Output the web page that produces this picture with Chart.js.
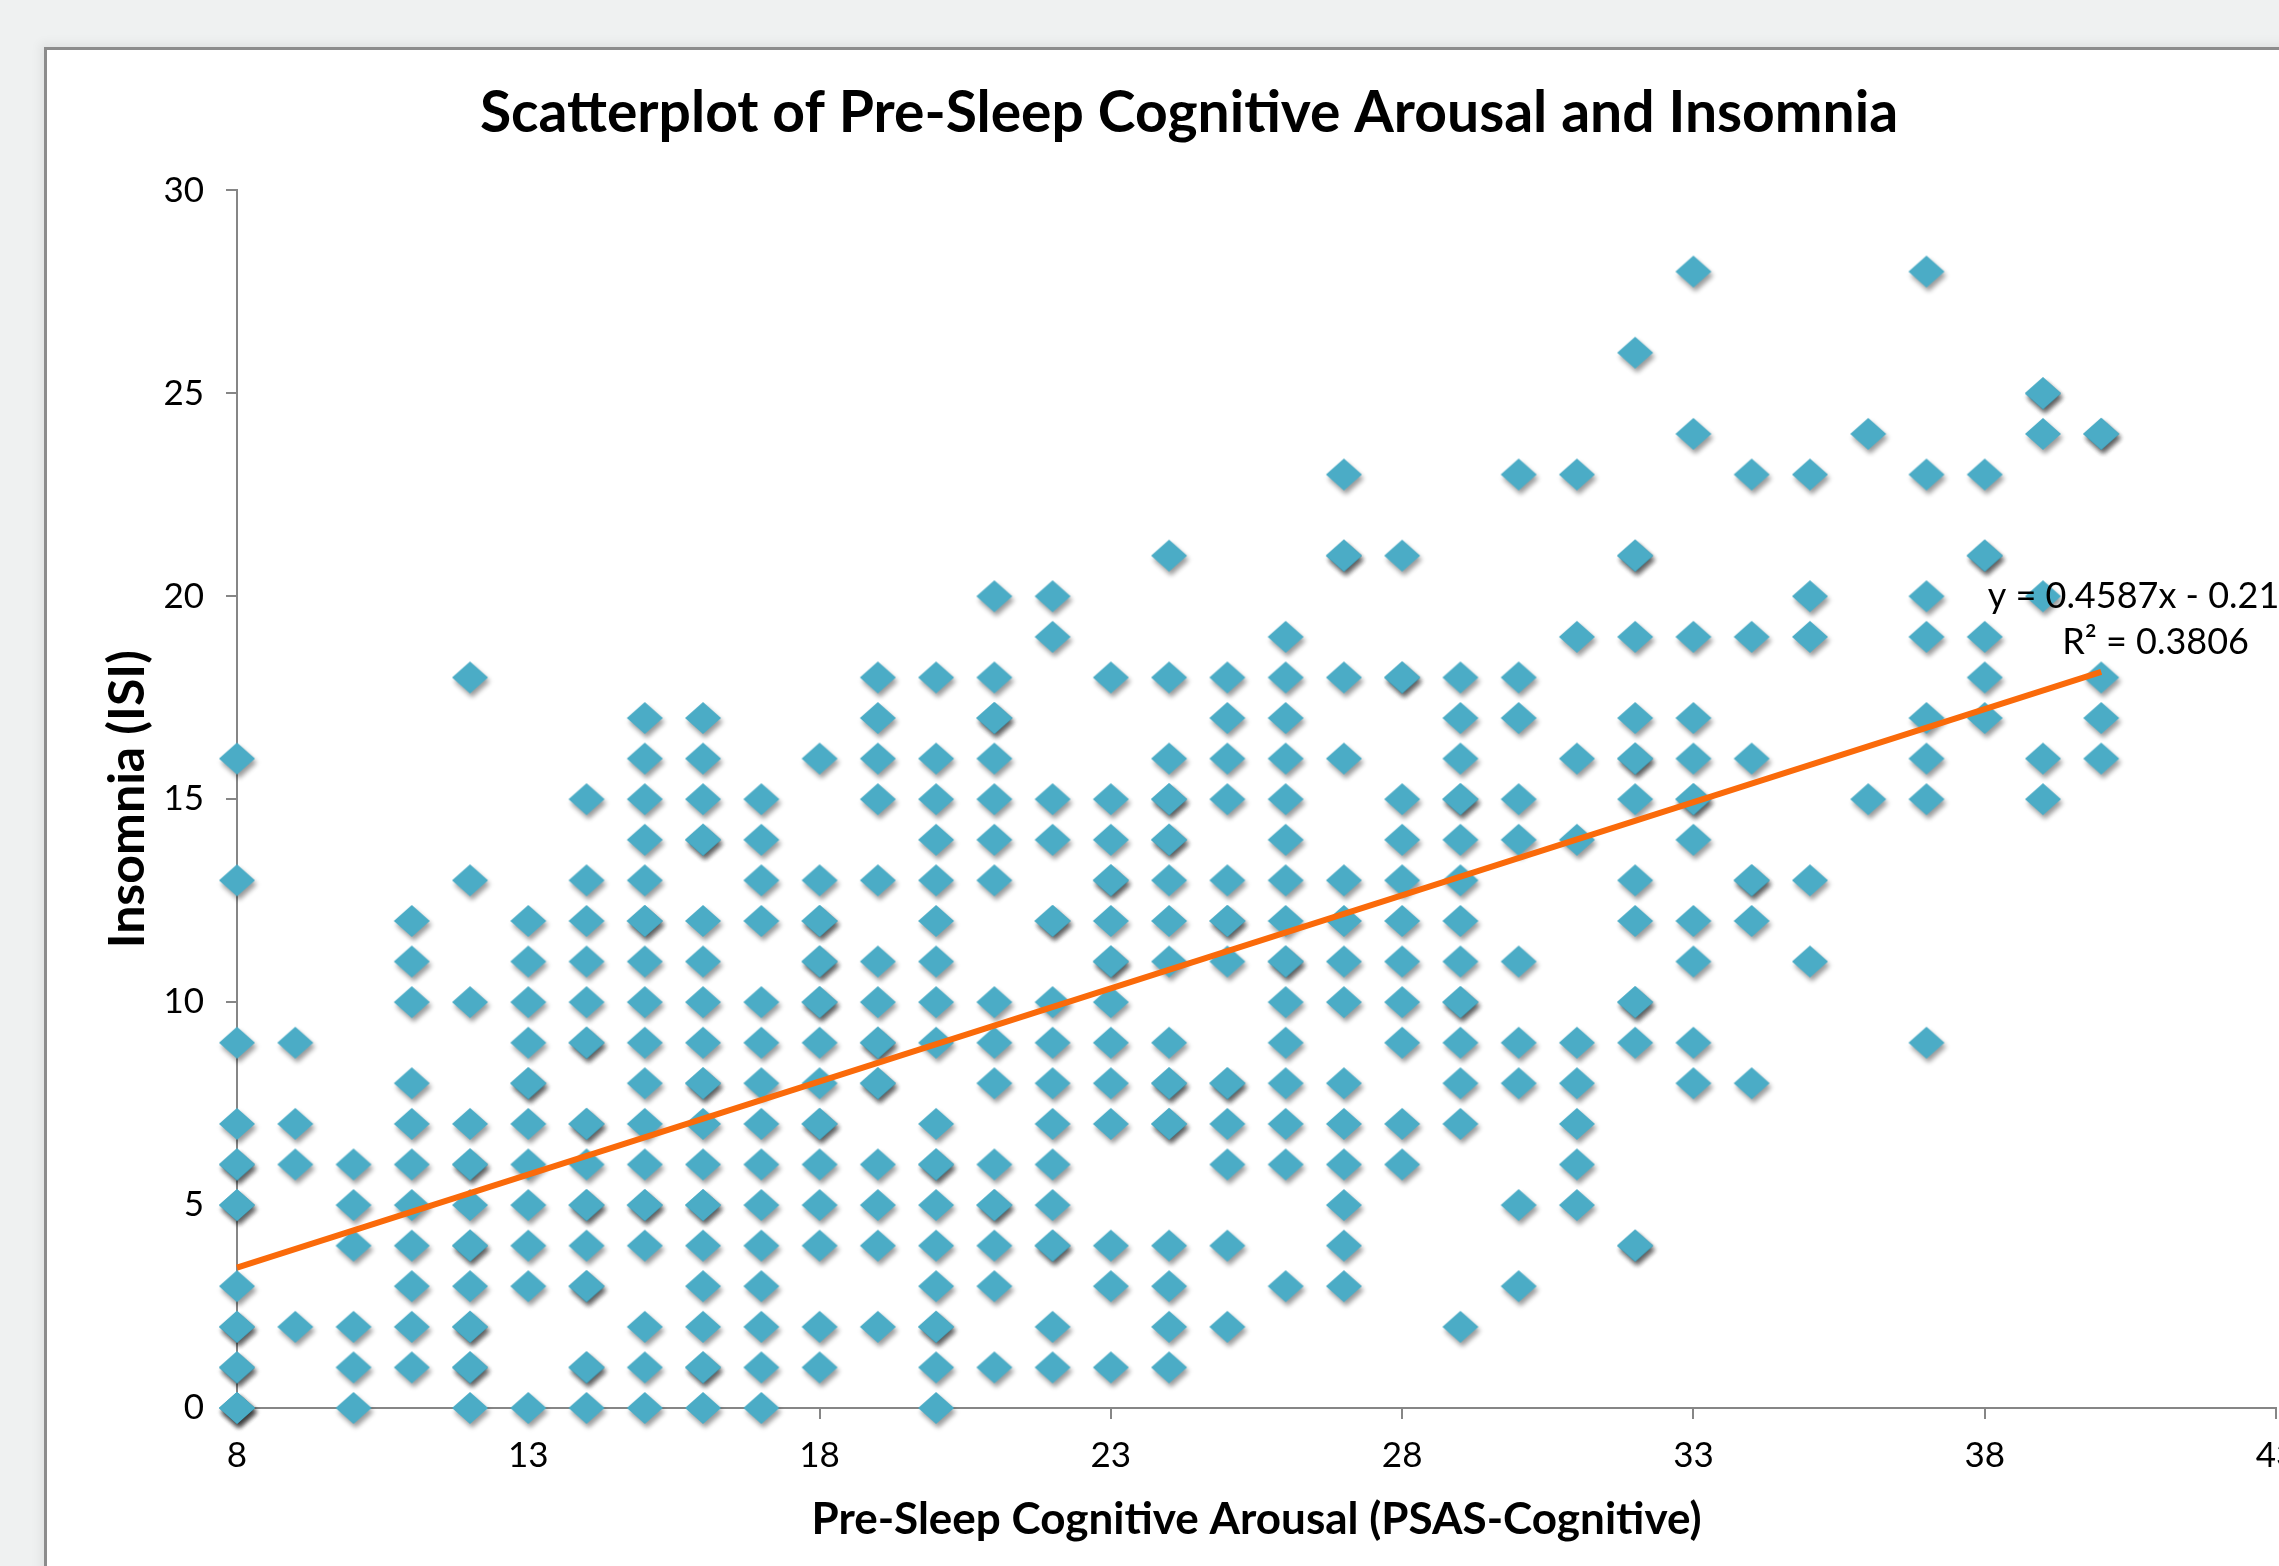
<!DOCTYPE html>
<html>
<head>
<meta charset="utf-8">
<title>Scatterplot of Pre-Sleep Cognitive Arousal and Insomnia</title>
<script src="https://cdn.jsdelivr.net/npm/chart.js@4.4.1/dist/chart.umd.min.js"></script>
<style>
    html, body { margin: 0; padding: 0; overflow: hidden; background: #eff1f1; }
    body { width: 2279px; height: 1566px; position: relative; }
    #panel {
        position: absolute; left: 44px; top: 47px; width: 2400px; height: 1600px;
        background: #fff; border: 3px solid #8c8c8c;
        box-shadow: -4px -4px 10px rgba(0, 0, 0, 0.06);
    }
    #scatter { position: absolute; left: 0; top: 0; }
</style>
</head>
<body>
<div id="panel"></div>
<canvas id="scatter" width="2400" height="1566"></canvas>
<script>
// PSAS-Cognitive scores (x) and the ISI scores seen at each of them (y)
let psasScores = [8, 9, 10, 11, 12, 13, 14, 15, 16, 17, 18, 19, 20, 21, 22, 23, 24,
    25, 26, 27, 28, 29, 30, 31, 32, 33, 34, 35, 36, 37, 38, 39, 40];
let isiScores = [
    [16, 13, 9, 7, 6, 6, 5, 5, 3, 2, 2, 1, 1, 0, 0, 0],
    [9, 7, 6, 2],
    [6, 5, 4, 2, 1, 0],
    [12, 11, 10, 8, 7, 6, 5, 4, 3, 2, 1],
    [18, 13, 10, 7, 6, 6, 5, 4, 4, 3, 2, 2, 1, 1, 0],
    [12, 11, 10, 9, 8, 8, 7, 6, 5, 4, 3, 0],
    [15, 13, 12, 11, 10, 9, 9, 7, 7, 6, 5, 5, 4, 3, 3, 1, 1, 0],
    [17, 16, 15, 14, 13, 12, 12, 11, 10, 9, 8, 7, 6, 5, 5, 4, 2, 1, 0],
    [17, 16, 15, 14, 14, 12, 11, 10, 9, 8, 8, 7, 6, 5, 5, 4, 3, 2, 1, 1, 0],
    [15, 14, 13, 12, 10, 9, 8, 7, 6, 5, 4, 3, 2, 1, 0],
    [16, 13, 12, 12, 11, 11, 10, 10, 9, 8, 7, 7, 6, 5, 4, 2, 1],
    [18, 17, 16, 15, 13, 11, 10, 9, 9, 8, 8, 6, 5, 4, 2],
    [18, 16, 15, 14, 13, 12, 11, 10, 9, 7, 6, 6, 5, 4, 3, 2, 2, 1, 0],
    [20, 18, 17, 17, 16, 15, 14, 13, 10, 9, 8, 6, 5, 5, 4, 3, 1],
    [20, 19, 15, 14, 12, 12, 10, 9, 8, 7, 6, 5, 4, 4, 2, 1],
    [18, 15, 14, 13, 13, 12, 11, 11, 10, 9, 8, 7, 4, 3, 1],
    [21, 18, 16, 15, 15, 14, 14, 13, 12, 11, 9, 8, 8, 7, 7, 4, 3, 2, 1],
    [18, 17, 16, 15, 13, 12, 12, 11, 8, 8, 7, 6, 4, 2],
    [19, 18, 17, 16, 15, 14, 13, 12, 11, 11, 10, 9, 8, 7, 6, 3],
    [23, 21, 21, 18, 16, 13, 12, 11, 10, 8, 7, 6, 5, 4, 3],
    [21, 18, 18, 15, 14, 13, 12, 11, 10, 9, 7, 6],
    [18, 17, 16, 15, 15, 14, 13, 12, 11, 10, 10, 9, 8, 7, 2],
    [23, 18, 17, 15, 14, 11, 9, 8, 5, 3],
    [23, 19, 16, 14, 9, 8, 7, 6, 5],
    [26, 21, 21, 19, 17, 16, 16, 15, 13, 12, 10, 10, 9, 4, 4],
    [28, 24, 19, 17, 16, 15, 15, 14, 12, 11, 9, 8],
    [23, 19, 16, 13, 13, 12, 8],
    [23, 20, 19, 13, 11],
    [24, 15],
    [28, 23, 20, 19, 17, 16, 15, 9],
    [23, 21, 21, 19, 18, 17],
    [25, 25, 24, 20, 16, 15],
    [24, 24, 18, 17, 16]
];
let xTicks = [8, 13, 18, 23, 28, 33, 38, 43];
let yTicks = [0, 5, 10, 15, 20, 25, 30];

// linear trendline as printed on the chart
let trendSlope = 0.4587;
let trendIntercept = -0.21;
let trendLabels = ["y = 0.4587x - 0.21", "R\u00b2 = 0.3806"];

document.addEventListener("DOMContentLoaded", function () {
    let points = [];
    psasScores.forEach(function (x, i) {
        isiScores[i].forEach(function (y) { points.push({ x: x, y: y }); });
    });

    let firstX = psasScores[0];
    let lastX = psasScores[psasScores.length - 1];
    let trendPoints = [
        { x: firstX, y: trendSlope * firstX + trendIntercept },
        { x: lastX, y: trendSlope * lastX + trendIntercept }
    ];

    // diamond marker with a soft drop shadow, like the Excel one
    let diamond = document.createElement("canvas");
    diamond.width = 60;
    diamond.height = 60;
    let g = diamond.getContext("2d");
    g.shadowColor = "rgba(0, 0, 0, 0.4)";
    g.shadowBlur = 5;
    g.shadowOffsetX = 2;
    g.shadowOffsetY = 4;
    g.fillStyle = "#4bacc6";
    g.beginPath();
    g.moveTo(30, 14);
    g.lineTo(48, 30);
    g.lineTo(30, 46);
    g.lineTo(12, 30);
    g.closePath();
    g.fill();

    let trendLabel = {
        id: "trendLabel",
        afterDatasetsDraw: function (chart) {
            let ctx = chart.ctx;
            let xs = chart.scales.x;
            let ys = chart.scales.y;
            ctx.save();
            ctx.font = "36px Lato";
            ctx.fillStyle = "#000";
            ctx.textAlign = "left";
            ctx.textBaseline = "middle";
            ctx.fillText(trendLabels[0], xs.getPixelForValue(38.05), ys.getPixelForValue(20.0));
            ctx.fillText(trendLabels[1], xs.getPixelForValue(39.33), ys.getPixelForValue(18.87));
            ctx.restore();
        }
    };

    new Chart(document.getElementById("scatter"), {
        type: "scatter",
        data: {
            datasets: [{
                type: "line",
                data: trendPoints,
                borderColor: "#fa6a0a",
                borderWidth: 6,
                pointRadius: 0,
                fill: false,
                clip: false,
                order: 0
            }, {
                data: points,
                pointStyle: diamond,
                pointRadius: 5,
                clip: false,
                order: 1
            }]
        },
        options: {
            responsive: false,
            animation: false,
            events: [],
            layout: { padding: { top: 60, left: 102, right: 124, bottom: 22 } },
            plugins: {
                legend: { display: false },
                tooltip: { enabled: false },
                title: {
                    display: true,
                    text: "Scatterplot of Pre-Sleep Cognitive Arousal and Insomnia",
                    color: "#000",
                    font: { family: "Lato", size: 57, weight: "bold" },
                    padding: { top: 19, bottom: 43 }
                }
            },
            scales: {
                x: {
                    type: "linear",
                    min: 8,
                    max: 43,
                    afterBuildTicks: function (s) { s.ticks = xTicks.map(function (v) { return { value: v }; }); },
                    afterFit: function (s) { s.height = 136; },
                    grid: { drawOnChartArea: false, tickLength: 11, color: "#868686", lineWidth: 2 },
                    border: { color: "#868686", width: 2 },
                    ticks: { color: "#000", font: { family: "Lato", size: 35 }, padding: 16, maxRotation: 0, autoSkip: false },
                    title: {
                        display: true,
                        text: "Pre-Sleep Cognitive Arousal (PSAS-Cognitive)",
                        color: "#000",
                        font: { family: "Lato", size: 44, weight: "bold", lineHeight: 1 },
                        padding: { top: 0, bottom: 2 }
                    }
                },
                y: {
                    type: "linear",
                    min: 0,
                    max: 30,
                    afterBuildTicks: function (s) { s.ticks = yTicks.map(function (v) { return { value: v }; }); },
                    afterFit: function (s) { s.width = 135; },
                    grid: { drawOnChartArea: false, tickLength: 11, color: "#868686", lineWidth: 2 },
                    border: { color: "#868686", width: 2 },
                    ticks: { color: "#000", font: { family: "Lato", size: 35 }, padding: 22 },
                    title: {
                        display: true,
                        text: "Insomnia (ISI)",
                        color: "#000",
                        font: { family: "Lato", size: 50, weight: "bold", lineHeight: 1 },
                        padding: { top: 1, bottom: 0 }
                    }
                }
            }
        },
        plugins: [trendLabel]
    });
});
</script>
</body>
</html>
